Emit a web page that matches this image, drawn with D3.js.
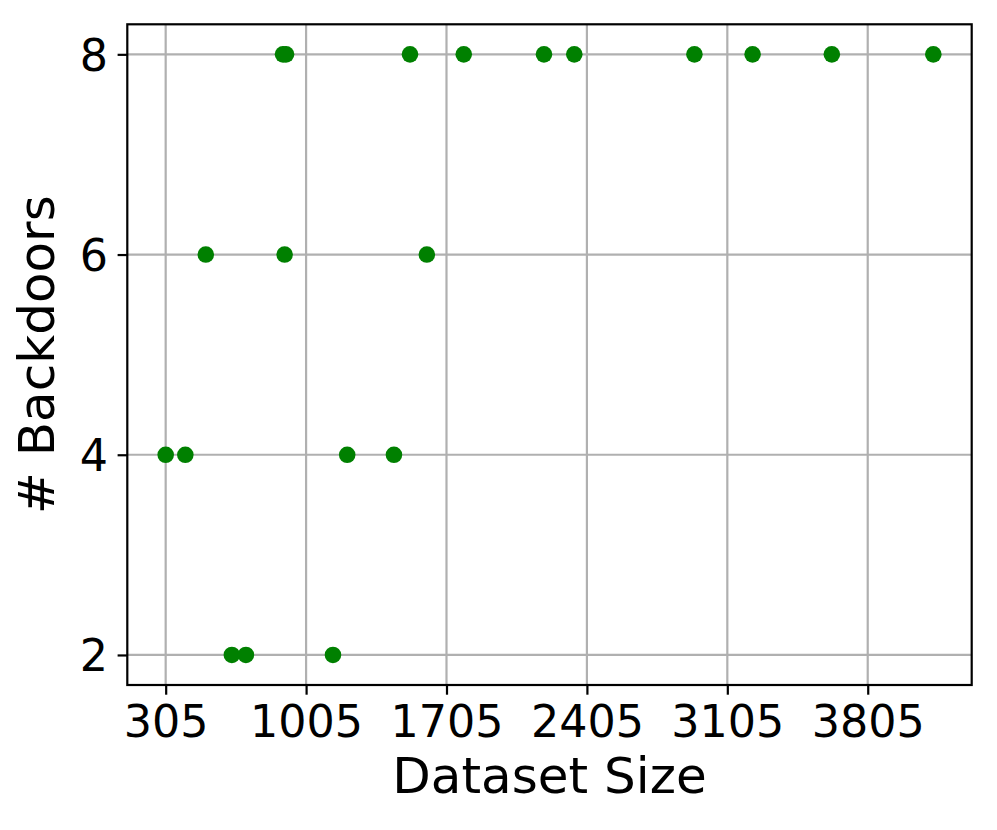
<!DOCTYPE html>
<html>
<head>
<meta charset="utf-8">
<script src="https://cdn.jsdelivr.net/npm/d3@7"></script>
<style>
  html, body { margin: 0; padding: 0; background: #fff; }
  svg { display: block; font-family: "DejaVu Sans", sans-serif; }
</style>
</head>
<body>
<svg id="chart" width="997" height="830"></svg>
<script>
// Data
const datasetSize = [305, 403, 505, 635, 705, 890, 905, 898, 1139, 1210, 1443, 1523, 1607, 1791, 2191, 2342, 2941, 3231, 3626, 4132];
const backdoors   = [4,   4,   6,   2,   2,   8,   8,   6,   2,    4,    4,    8,    6,    8,    8,    8,    8,    8,    8,    8];
const xTicks = [305, 1005, 1705, 2405, 3105, 3805];
const yTicks = [2, 4, 6, 8];
const xLabel = "Dataset Size";
const yLabel = "# Backdoors";

(function () {
const svg = d3.select("#chart");
const mLeft = 127.3, mRight = 971.7, mTop = 24.3, mBottom = 685;

const xMin = d3.min(datasetSize), xMax = d3.max(datasetSize);
const xPad = (xMax - xMin) * 0.05;
const x = d3.scaleLinear().domain([xMin - xPad, xMax + xPad]).range([mLeft, mRight]);
const y = d3.scaleLinear().domain([1.7, 8.3]).range([mBottom, mTop]);

const grid = "#b0b0b0", lw = 2.2;

// gridlines
svg.append("g").selectAll("line").data(xTicks).join("line")
  .attr("x1", d => x(d)).attr("x2", d => x(d))
  .attr("y1", mTop).attr("y2", mBottom)
  .attr("stroke", grid).attr("stroke-width", lw);
svg.append("g").selectAll("line").data(yTicks).join("line")
  .attr("y1", d => y(d)).attr("y2", d => y(d))
  .attr("x1", mLeft).attr("x2", mRight)
  .attr("stroke", grid).attr("stroke-width", lw);

// points
svg.append("g").selectAll("circle").data(datasetSize.map((d, i) => [d, backdoors[i]])).join("circle")
  .attr("cx", d => x(d[0])).attr("cy", d => y(d[1]))
  .attr("r", 8.3).attr("fill", "#008000");

// axes
const xAxis = d3.axisBottom(x).tickValues(xTicks).tickSize(9.7).tickPadding(9.7).tickFormat(d3.format("d"));
const yAxis = d3.axisLeft(y).tickValues(yTicks).tickSize(9.7).tickPadding(9.7).tickFormat(d3.format("d"));

const gx = svg.append("g").attr("transform", `translate(0,${mBottom})`).call(xAxis);
const gy = svg.append("g").attr("transform", `translate(${mLeft},0)`).call(yAxis);
[gx, gy].forEach(g => {
  g.select(".domain").remove();
  g.selectAll(".tick line").attr("stroke", "#000").attr("stroke-width", lw);
  g.selectAll(".tick text").attr("fill", "#000").attr("font-size", "44.4px")
    .attr("font-family", "DejaVu Sans, sans-serif");
});
gx.selectAll(".tick text").attr("dy", null).attr("y", 51.5);
gy.selectAll(".tick text").attr("dy", "0.36em");

// frame
svg.append("rect").attr("x", mLeft).attr("y", mTop)
  .attr("width", mRight - mLeft).attr("height", mBottom - mTop)
  .attr("fill", "none").attr("stroke", "#000").attr("stroke-width", lw);

// axis labels
svg.append("text").attr("x", (mLeft + mRight) / 2).attr("y", 793)
  .attr("text-anchor", "middle").attr("font-size", "50px").attr("fill", "#000")
  .text(xLabel);
svg.append("text").attr("transform", `translate(53.5,${(mTop + mBottom) / 2}) rotate(-90)`)
  .attr("text-anchor", "middle").attr("font-size", "50px").attr("fill", "#000")
  .text(yLabel);
})();
</script>
</body>
</html>
